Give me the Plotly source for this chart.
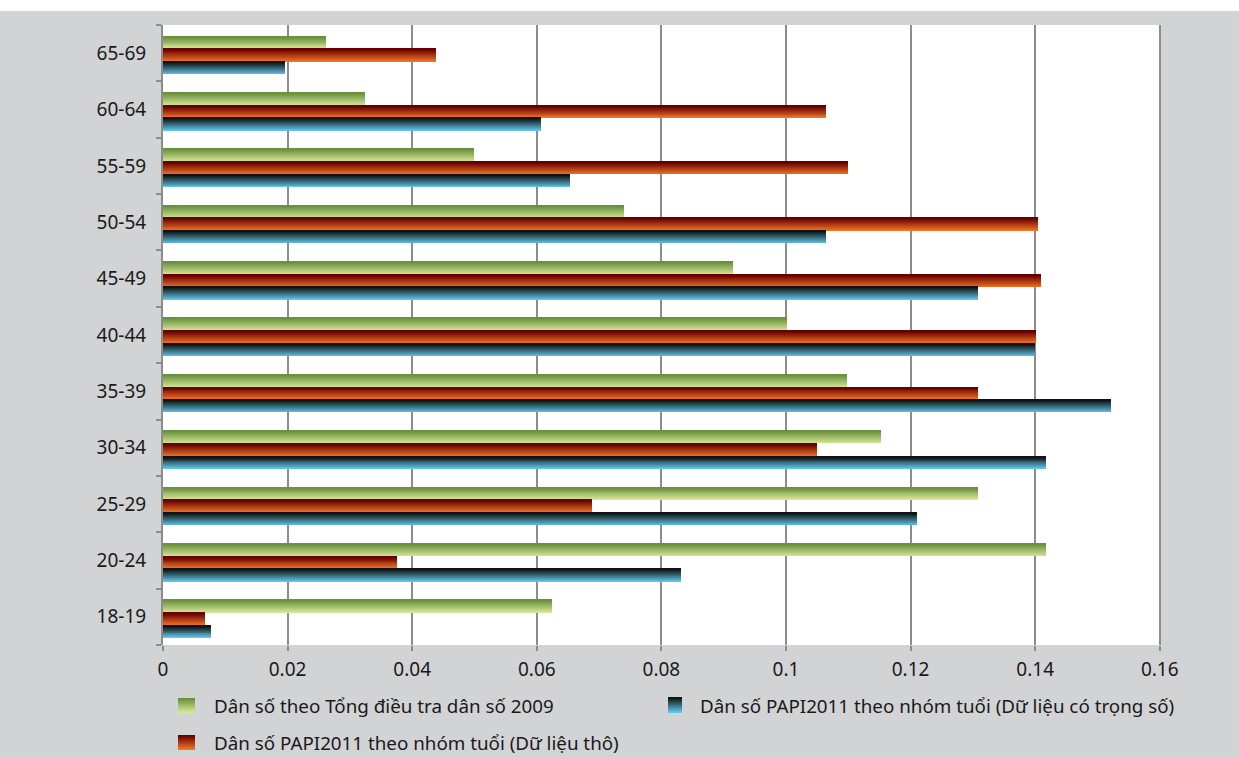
import plotly.graph_objects as go

# ---- data -------------------------------------------------------------
age_groups = ["18-19", "20-24", "25-29", "30-34", "35-39", "40-44",
              "45-49", "50-54", "55-59", "60-64", "65-69"]

census_2009 = [0.0625, 0.1417, 0.1309, 0.1152, 0.1098, 0.1002,
               0.0915, 0.0740, 0.0500, 0.0324, 0.0261]
papi_raw = [0.0067, 0.0375, 0.0689, 0.1050, 0.1308, 0.1401,
            0.1410, 0.1405, 0.1099, 0.1064, 0.0438]
papi_weighted = [0.0077, 0.0832, 0.1210, 0.1417, 0.1521, 0.1399,
                 0.1309, 0.1064, 0.0654, 0.0607, 0.0196]

x_tick_vals = [0, 0.02, 0.04, 0.06, 0.08, 0.10, 0.12, 0.14, 0.16]
x_tick_text = ["0", "0.02", "0.04", "0.06", "0.08", "0.1", "0.12", "0.14", "0.16"]

series_names = [
    "Dân số theo Tổng điều tra dân số 2009",
    "Dân số PAPI2011 theo nhóm tuổi (Dữ liệu có trọng số)",
    "Dân số PAPI2011 theo nhóm tuổi (Dữ liệu thô)",
]

# ---- styling ------------------------------------------------------------
FONT = "Noto Sans"
TEXT_COLOR = "#1a1a1a"
GRID_COLOR = "#8c8c8c"
BG_GRAY = "#d2d3d5"

# vertical gradients: (top colour, bottom colour)
GRAD_GREEN = ((106, 146, 62), (216, 230, 152))
GRAD_RED = ((102, 0, 0), (242, 116, 36))
GRAD_TEAL = ((14, 18, 18), (96, 198, 234))

N_STRIPS = 13
BAR_W = 0.225  # thickness of each series bar, in category units

W, H = 1239, 758
ML, MR, MT, MB = 163, 78, 25, 113
PW, PH = W - ML - MR, H - MT - MB


def mix(c0, c1, t):
    r, g, b = (round(a + (b_ - a) * t) for a, b_ in zip(c0, c1))
    return f"rgb({r},{g},{b})"


def px_x(p):
    return (p - ML) / PW


def px_y(p):
    return (H - MB - p) / PH


fig = go.Figure()


def gradient_bars(values, grad, top_offset):
    """Horizontal bar series drawn as thin stacked strips for a top-to-bottom gradient."""
    sw = BAR_W / N_STRIPS
    # draw from the bottom strip up so each strip's slight overlap hides the seam
    for k in reversed(range(N_STRIPS)):
        t = k / (N_STRIPS - 1)
        extra = 0 if k == N_STRIPS - 1 else sw * 0.5
        fig.add_trace(go.Bar(
            y=age_groups, x=values, orientation="h",
            offset=top_offset - (k + 1) * sw - extra, width=sw + extra,
            marker=dict(color=mix(grad[0], grad[1], t), line=dict(width=0)),
            showlegend=False, hoverinfo="skip",
        ))


top = 0.31
gradient_bars(census_2009, GRAD_GREEN, top)
gradient_bars(papi_raw, GRAD_RED, top - BAR_W)
gradient_bars(papi_weighted, GRAD_TEAL, top - 2 * BAR_W)

# ---- legend (gradient swatches + text) ----------------------------------
shapes = [
    # white strip above the gray panel
    dict(type="rect", xref="paper", yref="paper",
         x0=px_x(-5), x1=px_x(W + 5), y0=px_y(11), y1=px_y(-5),
         fillcolor="white", line=dict(width=0), layer="below"),
]
annotations = []

legend_items = [
    (series_names[0], GRAD_GREEN, 178, 195, 698, 713, 212, 706),
    (series_names[1], GRAD_TEAL, 668, 682, 697, 713, 698, 706),
    (series_names[2], GRAD_RED, 178, 195, 735, 750, 212, 743),
]
for name, grad, sx0, sx1, sy0, sy1, tx, ty in legend_items:
    n = 10
    step = (sy1 - sy0) / n
    for k in range(n):
        shapes.append(dict(
            type="rect", xref="paper", yref="paper",
            x0=px_x(sx0), x1=px_x(sx1),
            y0=px_y(min(sy1, sy0 + (k + 1.6) * step)), y1=px_y(sy0 + k * step),
            fillcolor=mix(grad[0], grad[1], k / (n - 1)),
            line=dict(width=0), layer="above"))
    annotations.append(dict(
        text=name, xref="paper", yref="paper", x=px_x(tx), y=px_y(ty),
        xanchor="left", yanchor="middle", showarrow=False,
        font=dict(family=FONT, size=18.8, color=TEXT_COLOR)))

fig.update_layout(
    width=W, height=H,
    margin=dict(l=ML, r=MR, t=MT, b=MB),
    paper_bgcolor=BG_GRAY, plot_bgcolor="white",
    barmode="overlay", bargap=0,
    showlegend=False,
    font=dict(family=FONT, size=19, color=TEXT_COLOR),
    shapes=shapes, annotations=annotations,
    xaxis=dict(
        range=[0, 0.1602], tickvals=x_tick_vals, ticktext=x_tick_text,
        showgrid=True, gridcolor=GRID_COLOR, gridwidth=2,
        zeroline=False, showline=False,
        ticks="outside", ticklen=5, tickwidth=2, tickcolor=GRID_COLOR,
        ticklabelstandoff=2,
        tickfont=dict(family=FONT, size=19, color=TEXT_COLOR),
        fixedrange=True,
    ),
    yaxis=dict(
        type="category", categoryorder="array", categoryarray=age_groups,
        range=[-0.5, len(age_groups) - 0.5],
        showgrid=False, zeroline=False,
        showline=True, linecolor=GRID_COLOR, linewidth=2,
        ticks="outside", tickson="boundaries", ticklen=5, tickwidth=2,
        tickcolor=GRID_COLOR, ticklabelstandoff=11,
        tickfont=dict(family=FONT, size=19, color=TEXT_COLOR),
        fixedrange=True,
    ),
)

fig.write_html("out.html")
